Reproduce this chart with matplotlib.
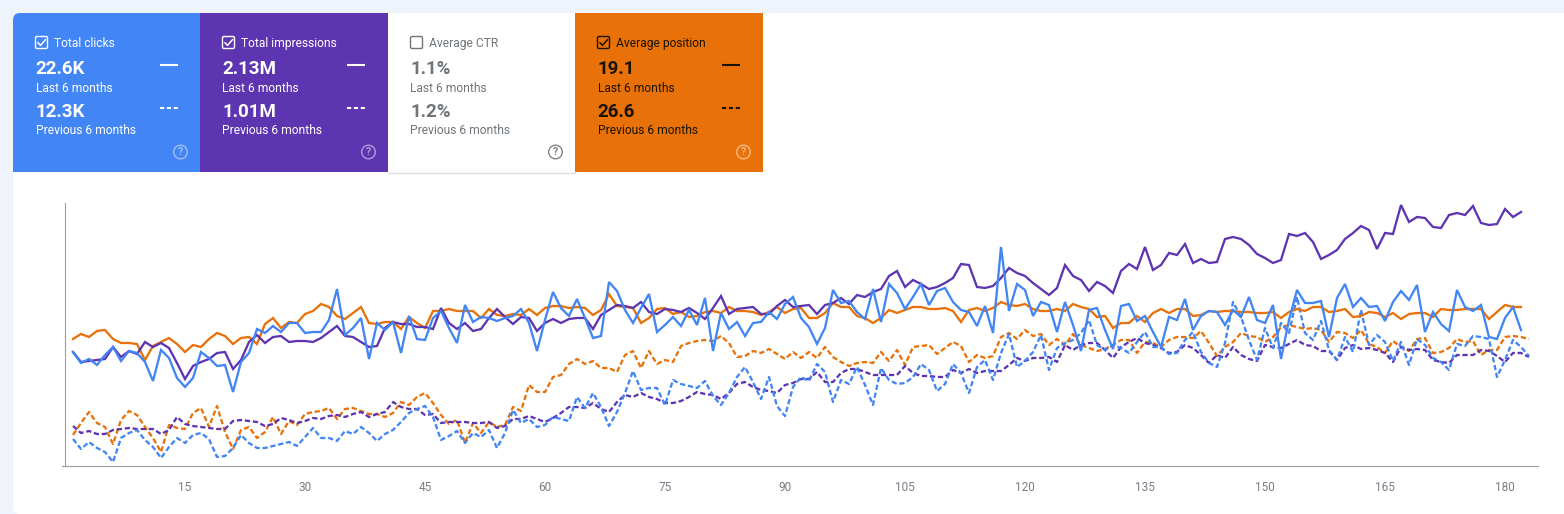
import matplotlib
matplotlib.use("Agg")
import matplotlib.pyplot as plt
from matplotlib.patches import Rectangle, Circle, FancyBboxPatch

plt.rcParams["font.family"] = ["Roboto", "DejaVu Sans"]

# values, one list per series, day 1 onwards
clicks_now = [114,103,107,101,111,119,105,115,113,104,85,116,108,88,79,88,114,108,100,101,74,104,113,137,133,140,134,143,143,
    133,134,134,146,177,131,138,148,107,143,136,144,113,150,127,126,148,155,138,123,161,144,149,148,145,148,150,157,143,115,
    146,174,158,150,167,148,128,130,184,175,156,143,158,172,134,141,149,140,156,141,168,115,153,137,144,130,143,144,154,147,
    162,169,148,139,122,138,176,163,165,154,147,177,144,182,173,157,169,182,161,175,178,164,156,154,140,160,133,219,155,182,
    176,150,164,161,134,164,141,115,156,158,136,117,160,162,145,150,134,119,149,146,167,136,150,155,154,141,156,149,169,146,143,
    161,107,146,176,163,163,165,129,168,182,159,168,159,160,145,164,175,166,181,134,154,142,135,176,159,155,161,129,127,148,159,136]
impressions_now = [114,104,105,106,107,119,109,115,112,124,119,123,118,103,87,100,104,107,113,114,97,106,124,131,123,129,130,124,125,
    125,124,128,134,140,130,129,124,119,120,138,144,142,142,139,139,137,158,143,137,143,135,137,148,157,149,142,149,148,135,
    143,147,143,147,148,148,137,151,156,161,160,158,164,154,152,157,156,154,158,153,147,158,170,152,157,158,159,152,152,160,
    166,159,160,161,152,161,163,168,162,171,169,174,177,190,195,179,186,182,177,179,183,188,202,201,179,178,180,188,198,193,
    190,183,177,171,178,201,190,186,175,184,180,173,195,202,197,219,196,201,213,211,222,203,207,203,204,227,229,227,221,212,208,
    203,206,232,230,233,224,207,211,216,227,233,240,236,217,233,232,261,244,249,248,239,238,251,253,251,260,243,241,242,257,249,254]
position_now = [127,132,129,135,136,127,123,123,122,106,120,124,128,122,114,121,119,127,133,130,122,128,129,122,142,148,138,144,143,
    152,155,162,159,150,147,153,159,143,142,144,144,137,149,143,138,155,155,157,155,155,155,148,157,151,150,152,151,157,151,
    158,160,160,158,159,158,151,156,172,160,159,158,143,148,157,158,152,154,149,150,154,155,153,159,155,155,154,151,154,159,
    153,157,158,148,148,153,163,159,159,150,148,143,148,156,153,156,159,159,157,157,158,155,144,156,158,155,158,164,161,160,
    162,157,155,155,157,155,162,159,157,149,150,138,143,143,150,144,153,157,153,157,157,150,151,155,154,155,155,154,154,153,153,
    154,148,154,157,155,159,159,154,155,157,149,150,154,153,149,153,147,152,153,153,149,157,156,156,157,157,157,147,154,161,159,159]
clicks_prev = [27,17,24,18,14,4,28,33,36,26,19,8,19,28,23,31,33,27,9,10,18,31,23,18,18,20,22,24,20,
    29,38,28,28,25,35,32,39,33,25,32,36,44,53,57,60,49,26,30,35,23,33,29,36,18,33,56,43,47,39,
    41,49,47,45,69,58,73,59,40,54,73,95,76,78,78,61,86,82,80,78,85,70,61,73,89,99,84,67,89,60,
    50,79,89,85,102,94,64,86,82,99,81,61,98,86,82,83,89,102,96,75,82,102,93,73,99,106,86,113,132,99,
    105,114,131,96,118,123,126,133,146,121,116,121,118,113,124,134,119,119,112,113,126,134,114,103,99,123,164,149,126,106,138,
    118,143,133,169,133,126,145,116,106,129,114,156,121,131,124,105,124,101,127,121,108,104,96,122,120,130,129,127,89,106,126,119,110]
impressions_prev = [40,33,35,32,32,36,37,38,37,37,37,32,36,49,42,40,39,38,37,37,45,46,45,44,40,42,48,46,43,
    45,48,47,50,51,49,52,54,49,52,54,64,59,57,57,51,52,43,44,44,44,43,43,44,38,40,47,47,50,47,
    44,48,53,59,59,58,63,57,54,64,71,69,73,69,67,63,63,65,69,74,72,71,67,73,82,84,79,76,75,73,
    81,83,87,87,94,84,84,93,97,97,94,91,91,91,91,100,93,90,90,89,89,96,93,97,93,95,95,95,101,108,
    105,108,108,109,104,121,116,121,123,123,116,108,119,124,128,123,121,118,113,114,121,118,111,103,111,108,119,111,107,105,121,
    119,118,122,126,121,120,115,115,106,118,121,117,118,116,113,104,119,116,117,116,106,104,103,111,111,111,116,115,110,104,113,113,109]
position_prev = [31,43,54,43,39,22,46,55,51,39,28,14,41,38,37,53,58,39,60,34,17,36,39,28,34,49,32,45,41,
    52,54,55,58,47,57,58,55,52,52,49,53,64,61,69,73,63,51,42,46,23,43,33,44,39,41,59,55,81,74,
    74,89,91,102,107,102,105,98,98,94,111,115,98,115,102,106,104,120,123,125,126,125,130,123,109,110,115,113,117,112,
    107,114,108,114,108,119,109,104,100,103,104,103,114,105,116,101,119,120,121,112,118,124,120,104,111,108,110,129,133,127,
    136,130,132,121,127,121,132,121,118,115,117,121,126,126,113,124,123,119,126,129,129,128,135,123,110,119,124,133,130,129,124,
    129,139,141,139,137,138,136,124,134,133,128,136,122,119,113,125,119,115,127,128,113,114,118,127,124,125,111,116,116,129,130,129,127]

day_ticks = [15, 30, 45, 60, 75, 90, 105, 120, 135, 150, 165, 180]

card_titles = ["Total clicks", "Total impressions", "Average CTR", "Average position"]
card_now = ["22.6K", "2.13M", "1.1%", "19.1"]
card_prev = ["12.3K", "1.01M", "1.2%", "26.6"]
card_checked = [True, True, False, True]

BLUE = "#4285f4"
PURPLE = "#5e35b1"
ORANGE = "#e8710a"
PAGE = "#eff3fb"
GREY = "#9e9e9e"

fig = plt.figure(figsize=(15.64, 5.14), dpi=100, facecolor=PAGE)

# overlay in pixels for the page and the cards
bg = fig.add_axes([0, 0, 1, 1])
bg.set_xlim(0, 1564)
bg.set_ylim(514, 0)
bg.axis("off")
bg.add_patch(FancyBboxPatch((13, 13), 1600, 501, boxstyle="round,pad=0,rounding_size=7", color="white", lw=0))

card_left = [13, 200, 388, 575]
card_right = [200, 388, 575, 763]
card_fill = [BLUE, PURPLE, "white", ORANGE]
card_ink = ["white", "white", "#70757a", "#1c1200"]
help_ink = ["white", "white", "#70757a", "white"]

# rounded corner on the first card
bg.add_patch(FancyBboxPatch((13, 13), 60, 60, boxstyle="round,pad=0,rounding_size=7", color=BLUE, lw=0))
bg.add_patch(Rectangle((13, 30), 187, 142, color=BLUE, lw=0))
bg.add_patch(Rectangle((30, 13), 170, 20, color=BLUE, lw=0))
bg.plot([388, 575], [172.5, 172.5], color="#e0e0e0", lw=1)
bg.plot([574.5, 574.5], [13, 172], color="#e0e0e0", lw=1)

for i in range(4):
    x0, x1 = card_left[i], card_right[i]
    ink = card_ink[i]
    if i > 0:
        bg.add_patch(Rectangle((x0, 13), x1 - x0, 159, color=card_fill[i], lw=0, zorder=2))
    tx = x0 + 22.5
    # checkbox
    bg.add_patch(FancyBboxPatch((tx, 36.5), 12, 12, boxstyle="round,pad=0,rounding_size=1.5",
                                fc="none", ec=ink, lw=1.0, zorder=3))
    if card_checked[i]:
        bg.plot([tx + 2.5, tx + 5, tx + 10], [42.8, 45.4, 39.7], color=ink, lw=1.1, zorder=3)
    bg.text(tx + 18.3, 43.3, card_titles[i], color=ink, fontsize=8.65, va="center", ha="left", zorder=3)
    bg.text(tx, 69, card_now[i], color=ink, fontsize=13.5, fontweight="bold", va="center", ha="left", zorder=3)
    bg.text(tx, 88, "Last 6 months", color=ink, fontsize=8.65, va="center", ha="left", zorder=3)
    bg.text(tx, 112, card_prev[i], color=ink, fontsize=13.5, fontweight="bold", va="center", ha="left", zorder=3)
    bg.text(tx, 131, "Previous 6 months", color=ink, fontsize=8.65, va="center", ha="left", zorder=3)
    if card_checked[i]:
        bg.plot([x0 + 147, x0 + 165], [65, 65], color=ink, lw=1.5, zorder=3, solid_capstyle="butt")
        bg.plot([x0 + 147, x0 + 165], [108, 108], color=ink, lw=1.5, zorder=3, ls=(0, (2.0, 1.3)))
    # help icon
    hx = x1 - 19.5
    alpha = 0.5 if i != 2 else 0.9
    bg.add_patch(Circle((hx, 152), 6.8, fc="none", ec=help_ink[i], lw=1.0, alpha=alpha, zorder=3))
    bg.text(hx, 152.3, "?", color=help_ink[i], alpha=alpha, fontsize=7.5, fontweight="bold", va="center", ha="center", zorder=3)

# the chart, day 0 sits at pixel 65 and each day is 8 pixels
ax = fig.add_axes([62 / 1564, (514 - 466) / 514, (1538 - 62) / 1564, 263 / 514])
ax.set_xlim(-0.375, 184.125)
ax.set_ylim(0, 263)
ax.patch.set_alpha(0)


def draw(values, color, dashed):
    days = list(range(1, len(values) + 1))
    ls = (0, (2.3, 1.2)) if dashed else "-"
    ax.plot(days, values, color=color, lw=1.65, ls=ls, solid_joinstyle="miter", clip_on=False)


draw(position_prev, ORANGE, True)
draw(impressions_prev, PURPLE, True)
draw(clicks_prev, BLUE, True)
draw(position_now, ORANGE, False)
draw(impressions_now, PURPLE, False)
draw(clicks_now, BLUE, False)

for side in ["top", "right"]:
    ax.spines[side].set_visible(False)
ax.spines["left"].set_position(("data", 0))
ax.spines["left"].set_color(GREY)
ax.spines["bottom"].set_color(GREY)
ax.set_yticks([])
ax.set_xticks(day_ticks)
ax.set_xticklabels([str(d) for d in day_ticks])
ax.tick_params(axis="x", length=0, pad=11, labelsize=8.5, labelcolor="#7a7d85")

fig.savefig("out.png", dpi=100, facecolor=PAGE)
